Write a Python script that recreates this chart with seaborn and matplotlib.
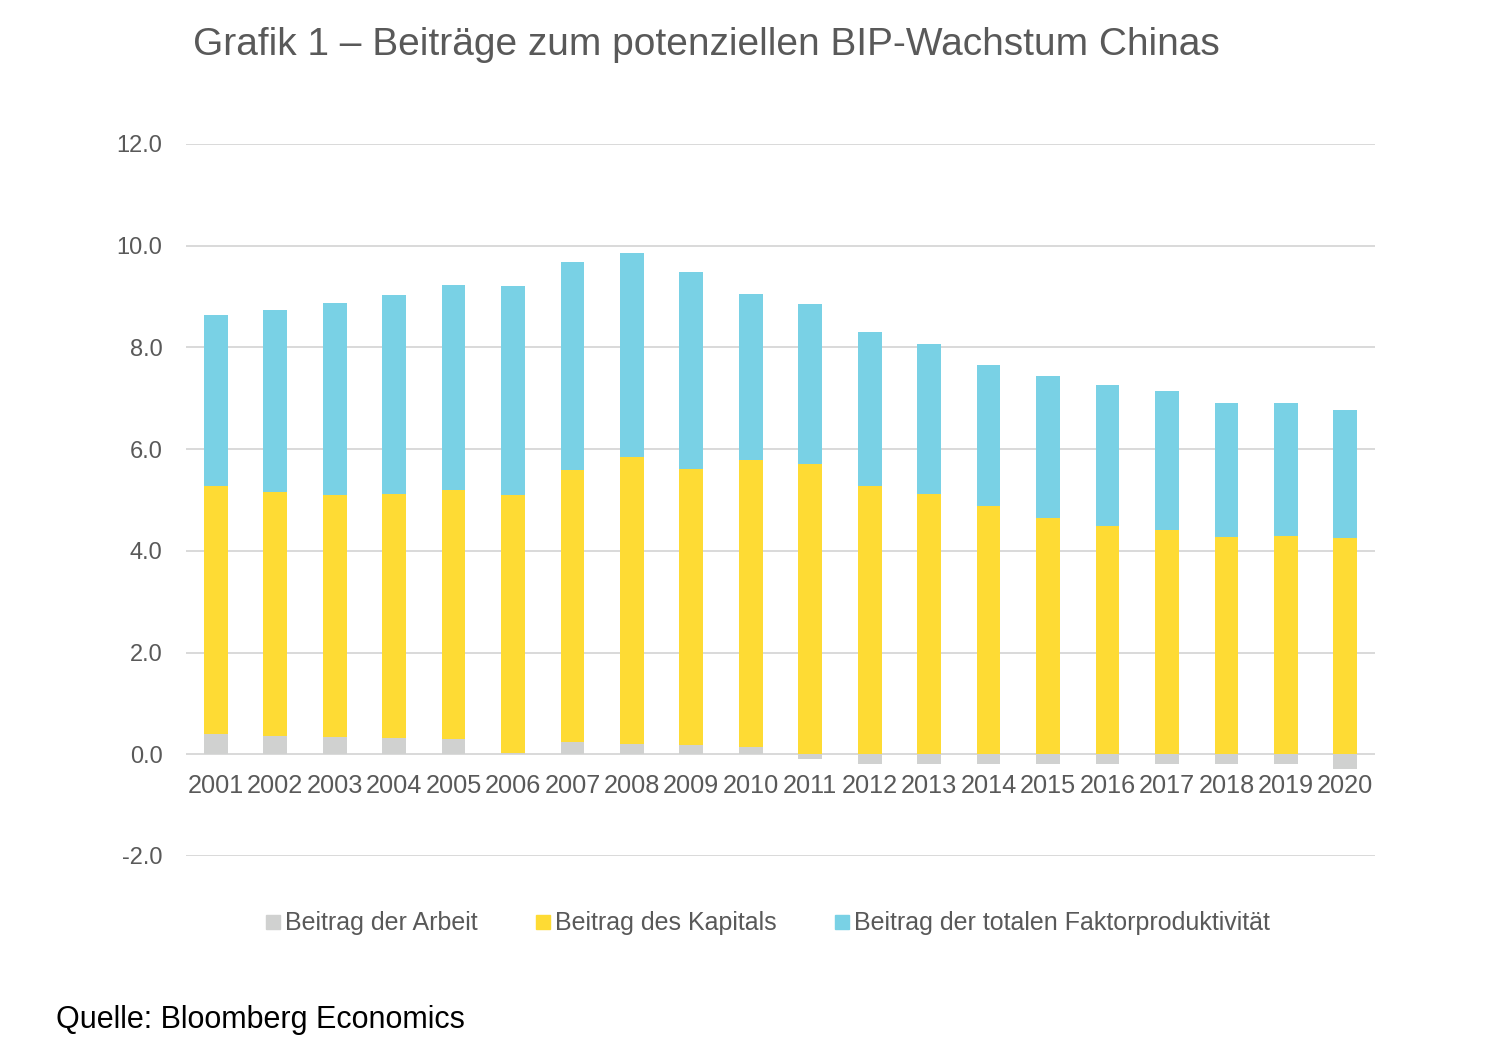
import matplotlib
matplotlib.use("Agg")
import matplotlib.pyplot as plt
from matplotlib.lines import Line2D
import seaborn as sns
import numpy as np

years = ["2001", "2002", "2003", "2004", "2005", "2006", "2007", "2008", "2009", "2010",
         "2011", "2012", "2013", "2014", "2015", "2016", "2017", "2018", "2019", "2020"]
labor = [0.39, 0.36, 0.33, 0.32, 0.29, 0.02, 0.24, 0.21, 0.18, 0.14,
         -0.09, -0.20, -0.20, -0.20, -0.20, -0.20, -0.20, -0.20, -0.20, -0.30]
capital = [4.89, 4.80, 4.76, 4.79, 4.91, 5.07, 5.35, 5.63, 5.42, 5.64,
           5.71, 5.28, 5.12, 4.89, 4.64, 4.49, 4.40, 4.27, 4.29, 4.26]
tfp = [3.36, 3.57, 3.78, 3.93, 4.02, 4.11, 4.09, 4.02, 3.89, 3.27,
       3.15, 3.03, 2.95, 2.77, 2.80, 2.77, 2.75, 2.63, 2.62, 2.51]
series_names = ["Beitrag der Arbeit", "Beitrag des Kapitals",
                "Beitrag der totalen Faktorproduktivität"]
y_ticks = [-2, 0, 2, 4, 6, 8, 10, 12]
y_tick_labels = ["-2.0", "0.0", "2.0", "4.0", "6.0", "8.0", "10.0", "12.0"]
title = "Grafik 1 – Beiträge zum potenziellen BIP-Wachstum Chinas"
source = "Quelle: Bloomberg Economics"

colors = ["#D0D1D0", "#FEDB34", "#79D1E5"]
txt = "#595959"

sns.set_theme(style="white")
plt.rcParams["font.family"] = ["Liberation Sans", "DejaVu Sans"]

fig = plt.figure(figsize=(15, 10.54), dpi=100)
ax = fig.add_axes([0.124, 0.1879, 0.7927, 0.6755])

lab = np.array(labor)
cap = np.array(capital)
tf = np.array(tfp)
cap_bottom = np.clip(lab, 0, None)
tfp_bottom = cap_bottom + cap

bar_kw = dict(width=0.4, ax=ax, saturation=1, linewidth=0)
sns.barplot(x=years, y=lab, color=colors[0], **bar_kw)
sns.barplot(x=years, y=cap, bottom=cap_bottom, color=colors[1], **bar_kw)
sns.barplot(x=years, y=tf, bottom=tfp_bottom, color=colors[2], **bar_kw)

ax.set_xlim(-0.5, len(years) - 0.5)
ax.set_ylim(-2, 12)
ax.set_yticks(y_ticks)
ax.set_yticklabels(y_tick_labels)
ax.yaxis.grid(True, color="#D9D9D9", linewidth=1.4)
ax.set_axisbelow(True)
for s in ax.spines.values():
    s.set_visible(False)
ax.spines["bottom"].set_position(("data", 0))
ax.tick_params(axis="both", length=0, labelsize=17, colors=txt)
ax.tick_params(axis="x", pad=14, labelsize=18.2)
ax.tick_params(axis="y", pad=17)
ax.set_xlabel("")
ax.set_ylabel("")

fig.text(0.1287, 0.957, title, fontsize=28, color=txt, ha="left", va="center")
fig.text(0.037, 0.032, source, fontsize=22, color="black", ha="left", va="center")

handles = [Line2D([], [], marker="s", linestyle="none", markersize=10,
                  markerfacecolor=c, markeredgecolor=c) for c in colors]
fig.legend(handles, series_names, loc="center", bbox_to_anchor=(0.511, 0.124),
           ncol=3, frameon=False, fontsize=18, labelcolor=txt,
           handletextpad=0.1, columnspacing=2.2, handlelength=0.8)

fig.savefig("out.png", dpi=100)
